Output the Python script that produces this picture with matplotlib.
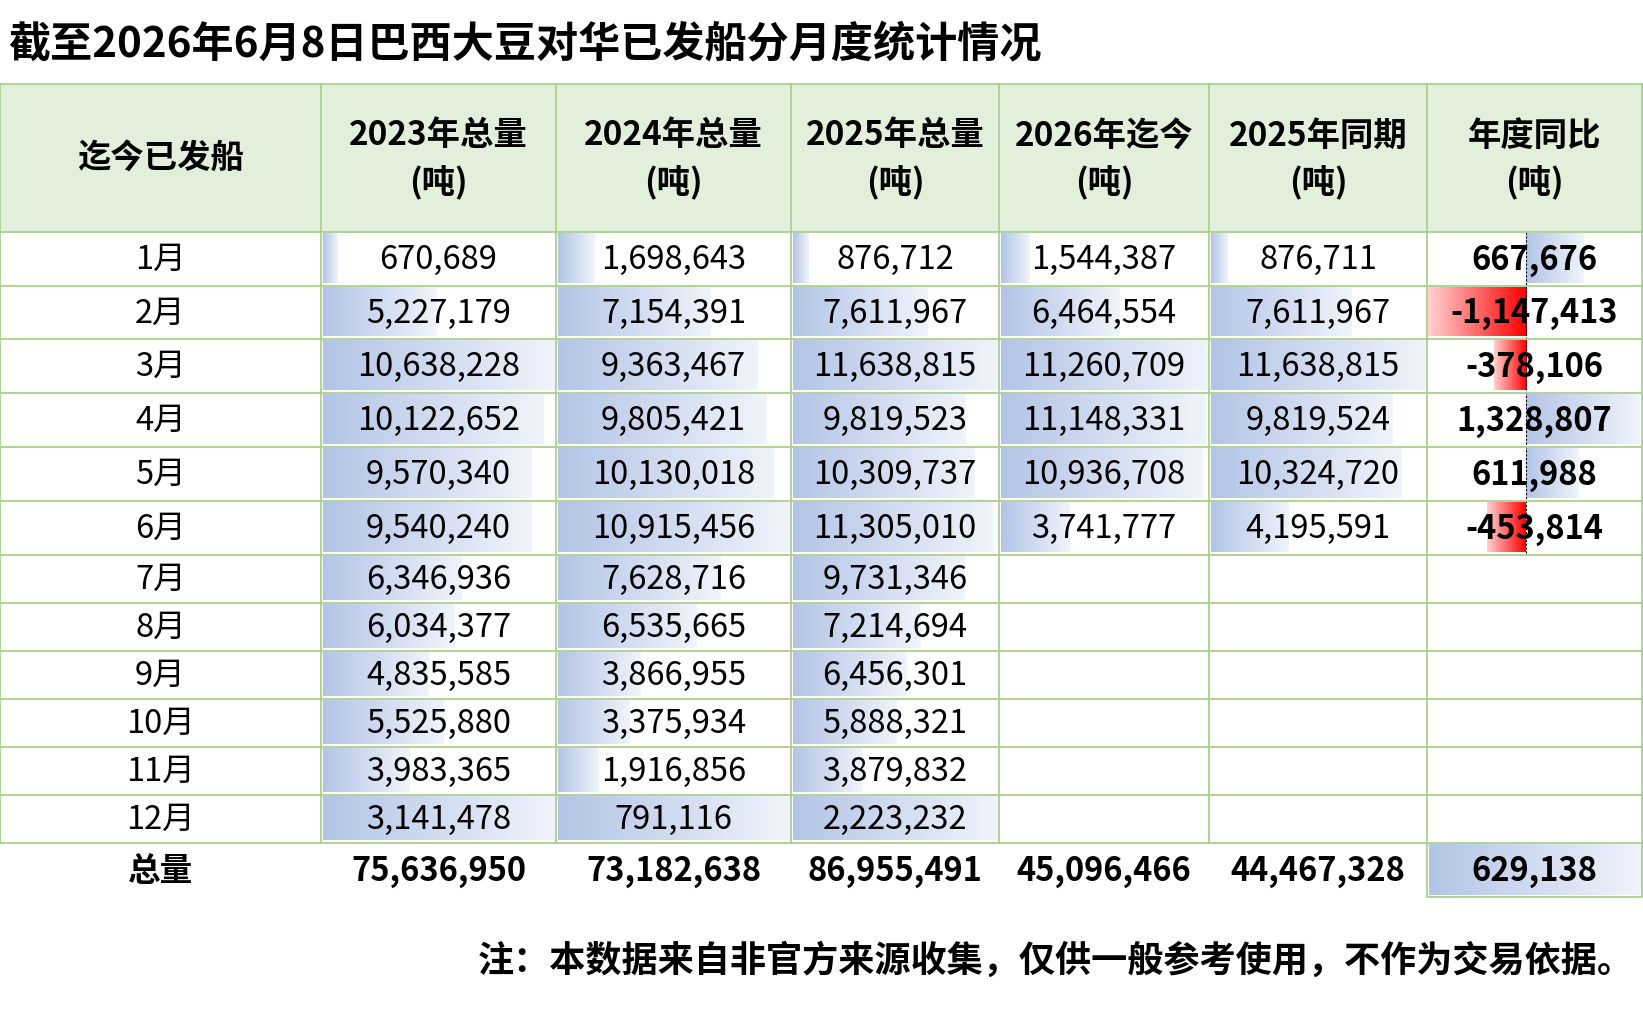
import matplotlib
matplotlib.use('Agg')
import matplotlib.pyplot as plt
import numpy as np
from matplotlib.patches import Rectangle

plt.rcParams['font.family'] = ['Noto Sans CJK SC', 'DejaVu Sans']

title = '截至2026年6月8日巴西大豆对华已发船分月度统计情况'
note = '注：本数据来自非官方来源收集，仅供一般参考使用，不作为交易依据。'
first_header = '迄今已发船'
col_headers = ['2023年总量', '2024年总量', '2025年总量', '2026年迄今', '2025年同期', '年度同比']
unit = '(吨)'
months = ['1月', '2月', '3月', '4月', '5月', '6月', '7月', '8月', '9月', '10月', '11月', '12月']
total_label = '总量'

y2023 = [670689, 5227179, 10638228, 10122652, 9570340, 9540240,
         6346936, 6034377, 4835585, 5525880, 3983365, 3141478]
y2024 = [1698643, 7154391, 9363467, 9805421, 10130018, 10915456,
         7628716, 6535665, 3866955, 3375934, 1916856, 791116]
y2025 = [876712, 7611967, 11638815, 9819523, 10309737, 11305010,
         9731346, 7214694, 6456301, 5888321, 3879832, 2223232]
y2026 = [1544387, 6464554, 11260709, 11148331, 10936708, 3741777]
y2025_same = [876711, 7611967, 11638815, 9819524, 10324720, 4195591]
yoy = [667676, -1147413, -378106, 1328807, 611988, -453814]
totals = [75636950, 73182638, 86955491, 45096466, 44467328, 629138]

# layout (pixels)
W, H = 1643, 1021
col_x = [0, 321, 556, 791, 999, 1209, 1427, 1642]
head_top, head_bot = 84, 232
row_y = [232, 286, 339, 393, 447, 501, 555, 603, 651, 699, 747, 795, 843]
tot_bot = 897
grid = '#A9D08E'
head_fill = '#E2EFDA'
blue0, blue1 = np.array([0.70, 0.77, 0.90]), np.array([0.94, 0.955, 0.985])
red0, red1 = np.array([1.0, 0.0, 0.0]), np.array([1.0, 0.82, 0.82])
num_fs = 23.5

fig = plt.figure(figsize=(W / 100, H / 100), dpi=100)
ax = fig.add_axes([0, 0, 1, 1])


def gradient(x0, x1, y0, y1, c_start, c_end):
    # c_start at x0, c_end at x1
    t = np.linspace(0, 1, 256)[:, None]
    img = (c_start[None, :] * (1 - t) + c_end[None, :] * t)[None, :, :]
    ax.imshow(img, extent=(x0, x1, y1, y0), aspect='auto', interpolation='bilinear', zorder=1)


def fmt(v):
    return f'{v:,}'


# header
ax.add_patch(Rectangle((col_x[0], head_top), col_x[-1] - col_x[0], head_bot - head_top,
                       facecolor=head_fill, edgecolor='none', zorder=0))
hc = (head_top + head_bot) / 2
ax.text((col_x[0] + col_x[1]) / 2, hc + 1, first_header, fontsize=24, fontweight='bold',
        ha='center', va='center', zorder=3)
for i, h in enumerate(col_headers):
    cx = (col_x[i + 1] + col_x[i + 2]) / 2
    ax.text(cx, hc - 22, h, fontsize=24, fontweight='bold', ha='center', va='center', zorder=3)
    ax.text(cx, hc + 24, unit, fontsize=24, fontweight='bold', ha='center', va='center', zorder=3)

# data columns with bars (12月 row has its own data-bar rule, so it fills the cell)
data_cols = [y2023, y2024, y2025, y2026, y2025_same]
for ci, vals in enumerate(data_cols):
    left, right = col_x[ci + 1], col_x[ci + 2]
    bw = right - left - 3
    main = vals[:11]
    cx = (left + right) / 2
    for ri, v in enumerate(vals):
        y0, y1 = row_y[ri] + 1.5, row_y[ri + 1] - 3
        ref = max(main) if ri < 11 else v
        length = v / ref * bw
        gradient(left + 1.5, left + 1.5 + length, y0, y1, blue0, blue1)
        ax.text(cx, (row_y[ri] + row_y[ri + 1]) / 2 + 1, fmt(v), fontsize=num_fs,
                ha='center', va='center', zorder=3)

# year-on-year column with axis
left, right = col_x[6], col_x[7]
w = right - left - 3
vmin, vmax = min(yoy), max(yoy)
axis_x = left + 1 + (-vmin) / (vmax - vmin) * w
cx = (left + right) / 2
for ri, v in enumerate(yoy):
    y0, y1 = row_y[ri] + 1.5, row_y[ri + 1] - 3
    length = abs(v) / (vmax - vmin) * w
    if v >= 0:
        gradient(axis_x, axis_x + length, y0, y1, blue0, blue1)
    else:
        gradient(axis_x - length, axis_x, y0, y1, red1, red0)
    ax.text(cx, (row_y[ri] + row_y[ri + 1]) / 2 + 1, fmt(v), fontsize=num_fs, fontweight='bold',
            ha='center', va='center', zorder=3)
ax.vlines(axis_x, row_y[0], row_y[6], colors='black', linestyles=(0, (2, 1.5)), lw=0.8, zorder=2)

# month labels
for ri, m in enumerate(months):
    ax.text((col_x[0] + col_x[1]) / 2, (row_y[ri] + row_y[ri + 1]) / 2 + 1, m, fontsize=num_fs,
            ha='center', va='center', zorder=3)

# grid lines
for x in col_x:
    ax.plot([x, x], [head_top, row_y[-1]], color=grid, lw=1.3, zorder=2)
for y in [head_top] + row_y:
    ax.plot([col_x[0], col_x[-1]], [y, y], color=grid, lw=1.3, zorder=2)

# total row
tc = (row_y[-1] + tot_bot) / 2
ax.text((col_x[0] + col_x[1]) / 2, tc + 1, total_label, fontsize=num_fs, fontweight='bold',
        ha='center', va='center', zorder=3)
gradient(col_x[6] + 1.5, col_x[7] - 1.5, row_y[-1] + 1.5, tot_bot - 2, blue0, blue1)
for i, v in enumerate(totals):
    ax.text((col_x[i + 1] + col_x[i + 2]) / 2, tc + 1, fmt(v), fontsize=num_fs, fontweight='bold',
            ha='center', va='center', zorder=3)
ax.plot([col_x[6], col_x[6], col_x[7], col_x[7]], [row_y[-1], tot_bot, tot_bot, row_y[-1]],
        color=grid, lw=1.3, zorder=2)

# title and note
ax.text(8, 44, title, fontsize=30.3, fontweight='bold', ha='left', va='center')
ax.text(1634, 961, note, fontsize=26, fontweight='bold', ha='right', va='center')

ax.set_xlim(0, W)
ax.set_ylim(H, 0)
ax.axis('off')
fig.savefig('out.png', dpi=100, facecolor='white')
